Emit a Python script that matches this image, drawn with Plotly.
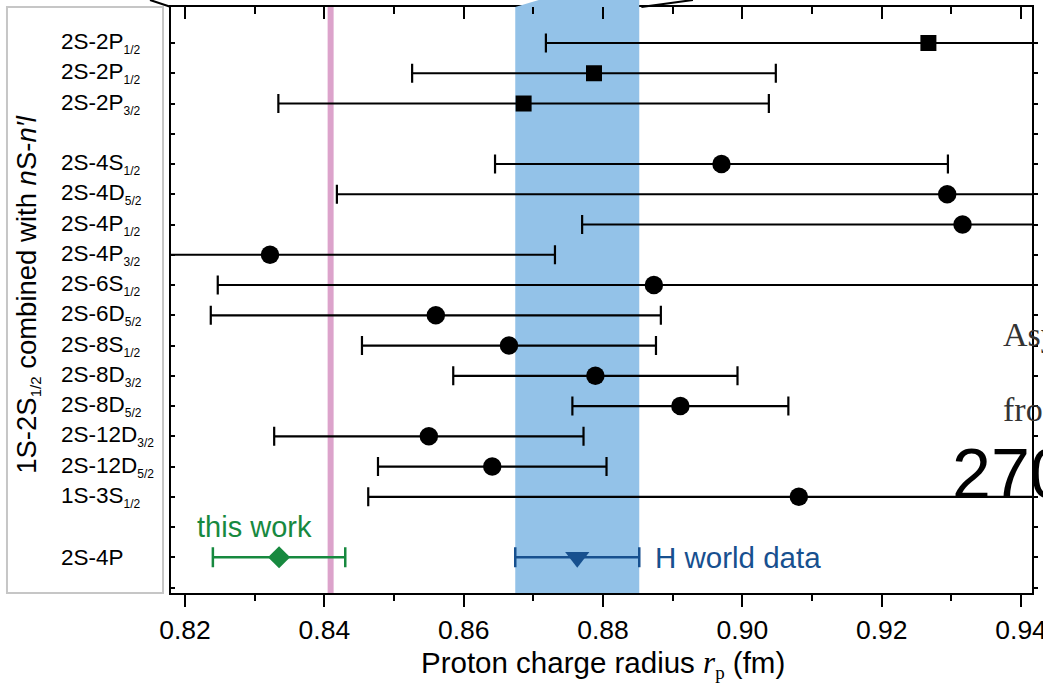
import plotly.graph_objects as go

# ---------------- data ----------------
sq_names = ["2S-2P", "2S-2P", "2S-2P"]
sq_subs = ["1/2", "1/2", "3/2"]
sq_rows = [0, 1, 2]
sq_vals = [0.9267, 0.8787, 0.8686]
sq_errs = [0.0549, 0.0261, 0.0352]

ci_names = ["2S-4S", "2S-4D", "2S-4P", "2S-4P", "2S-6S", "2S-6D", "2S-8S",
            "2S-8D", "2S-8D", "2S-12D", "2S-12D", "1S-3S"]
ci_subs = ["1/2", "5/2", "1/2", "3/2", "1/2", "5/2", "1/2",
           "3/2", "5/2", "3/2", "5/2", "1/2"]
ci_rows = [4, 5, 6, 7, 8, 9, 10, 11, 12, 13, 14, 15]
ci_vals = [0.8970, 0.9294, 0.9316, 0.8322, 0.8873, 0.8560, 0.8665,
           0.8789, 0.8911, 0.8550, 0.8641, 0.9081]
ci_errs = [0.0325, 0.0876, 0.0546, 0.0409, 0.0626, 0.0323, 0.0211,
           0.0204, 0.0155, 0.0222, 0.0164, 0.0618]

this_name = "2S-4P"
this_row = 17
this_val = 0.8335
this_err = 0.0095

world_val = 0.8763
world_err = 0.0089

muonic_val = 0.8409

x_ticks = [0.82, 0.84, 0.86, 0.88, 0.90, 0.92, 0.94]
x_minor = [0.83, 0.85, 0.87, 0.89, 0.91, 0.93]
y_ticks = list(range(0, 19))

# ---------------- style ----------------
FONT = "Liberation Sans, Arial, Helvetica, sans-serif"
GREEN = "#17893f"
DBLUE = "#17508f"
BAND = "#93c2e8"
PINK = "#dca3cb"

fig = go.Figure()

fig.add_trace(go.Scatter(
    x=sq_vals, y=sq_rows, mode="markers",
    marker=dict(symbol="square", size=16, color="black"),
    error_x=dict(type="data", array=sq_errs, color="black", thickness=2.2, width=9.5),
    showlegend=False, hoverinfo="skip"))

fig.add_trace(go.Scatter(
    x=ci_vals, y=ci_rows, mode="markers",
    marker=dict(symbol="circle", size=18.5, color="black"),
    error_x=dict(type="data", array=ci_errs, color="black", thickness=2.2, width=9.5),
    showlegend=False, hoverinfo="skip"))

fig.add_trace(go.Scatter(
    x=[this_val], y=[this_row], mode="markers",
    marker=dict(symbol="diamond", size=17, color=GREEN),
    error_x=dict(type="data", array=[this_err], color=GREEN, thickness=2.5, width=10),
    showlegend=False, hoverinfo="skip"))

fig.add_trace(go.Scatter(
    x=[world_val], y=[this_row], mode="markers",
    marker=dict(symbol="triangle-down", size=21, color=DBLUE),
    error_x=dict(type="data", array=[world_err], color=DBLUE, thickness=2.5, width=10),
    showlegend=False, hoverinfo="skip"))

# invisible trace for mirrored top/right axes
fig.add_trace(go.Scatter(x=[world_val], y=[this_row], xaxis="x2", yaxis="y2",
                         mode="markers", marker=dict(opacity=0),
                         showlegend=False, hoverinfo="skip"))

# band and muonic line
fig.add_shape(type="rect", xref="x", yref="paper",
              x0=world_val - world_err, x1=world_val + world_err, y0=0, y1=1,
              fillcolor=BAND, line=dict(width=0), layer="below")
fig.add_shape(type="line", xref="x", yref="paper", x0=muonic_val, x1=muonic_val,
              y0=0, y1=1, line=dict(color=PINK, width=6), layer="below")

# decorative zoom connectors above the plot
fig.add_shape(type="path", xref="x", yref="paper",
              path=f"M {world_val - world_err},1 L {world_val - world_err + 0.0034},1.012 "
                   f"L {world_val + world_err},1.012 L {world_val + world_err},1 Z",
              fillcolor=BAND, line=dict(width=0))
fig.add_shape(type="line", xref="x", yref="paper",
              x0=world_val + world_err + 0.0003, y0=1, x1=0.8929, y1=1.012,
              line=dict(color="black", width=2))
fig.add_shape(type="line", xref="paper", yref="paper",
              x0=-0.0244, y0=1.012, x1=0, y1=1,
              line=dict(color="black", width=2))

# gray box around row labels
fig.add_shape(type="rect", xref="paper", yref="paper",
              x0=-0.1905, x1=-0.0093, y0=0, y1=1,
              line=dict(color="#c6c6c6", width=2), fillcolor="rgba(0,0,0,0)")

ann = []
LX = -0.130
for n, s, r in zip(sq_names + ci_names, sq_subs + ci_subs, sq_rows + ci_rows):
    ann.append(dict(x=LX, xref="paper", y=r, yref="y", xanchor="left", yanchor="middle",
                    text=f"{n}<sub><span style='font-size:12px'>{s}</span></sub>",
                    showarrow=False, font=dict(family=FONT, size=22.5, color="black")))
ann.append(dict(x=LX, xref="paper", y=this_row, yref="y", xanchor="left", yanchor="middle",
                text=this_name, showarrow=False,
                font=dict(family=FONT, size=22.5, color="black")))

ann.append(dict(x=0.830, xref="x", y=16, yref="y", xanchor="center", yanchor="middle",
                text="this work", showarrow=False,
                font=dict(family=FONT, size=29, color=GREEN)))
ann.append(dict(x=world_val + world_err + 0.0020, xref="x", y=this_row, yref="y",
                xanchor="left", yanchor="middle", text="H world data", showarrow=False,
                font=dict(family=FONT, size=29.5, color=DBLUE)))

ann.append(dict(x=-0.1665, xref="paper", y=0.51, yref="paper", textangle=-90,
                xanchor="center", yanchor="middle",
                text="1S-2S<sub><span style='font-size:15px'>1/2</span></sub> combined with <i>n</i>S-<i>n′l</i>",
                showarrow=False, font=dict(family=FONT, size=27.5, color="black")))

ann.append(dict(x=0.502, xref="paper", y=-0.122, yref="paper", xanchor="center",
                yanchor="middle",
                text="Proton charge radius <span style='font-family:Liberation Serif;font-size:31px'><i>r</i></span>"
                     "<sub><span style='font-family:Liberation Serif;font-size:19px'>p</span></sub> (fm)",
                showarrow=False, font=dict(family=FONT, size=29.5, color="black")))

# text fragments from neighbouring panel (cut at the right edge, as in the source)
ann.append(dict(x=(1001 - 171) / 861, xref="paper", y=(593 - 334) / 586, yref="paper",
                xanchor="left", yanchor="middle", text="Asy", showarrow=False,
                font=dict(family="Liberation Serif", size=34, color="#333333")))
ann.append(dict(x=(1001 - 171) / 861, xref="paper", y=(593 - 409) / 586, yref="paper",
                xanchor="left", yanchor="middle", text="fro", showarrow=False,
                font=dict(family="Liberation Serif", size=34, color="#333333")))
ann.append(dict(x=(950 - 171) / 861, xref="paper", y=(593 - 474) / 586, yref="paper",
                xanchor="left", yanchor="middle", text="270", showarrow=False,
                font=dict(family=FONT, size=70, color="black")))

fig.update_layout(
    width=1043, height=683,
    margin=dict(l=171, r=11, t=7, b=90, autoexpand=False),
    paper_bgcolor="white", plot_bgcolor="white",
    annotations=ann,
    xaxis=dict(range=[0.81799, 0.94157], tickvals=x_ticks, ticktext=[f"{v:.2f}" for v in x_ticks],
               ticks="outside", ticklen=12, tickwidth=2, tickcolor="black",
               ticklabeloverflow="allow", automargin=False,
               minor=dict(tickvals=x_minor, ticks="outside", ticklen=6, tickwidth=2,
                          tickcolor="black", showgrid=False),
               showline=True, linewidth=2, linecolor="black", showgrid=False, zeroline=False,
               tickfont=dict(family=FONT, size=26.5, color="black")),
    yaxis=dict(range=[18.18, -1.19], tickvals=y_ticks, ticks="inside", ticklen=4,
               tickwidth=1.5, tickcolor="black", showticklabels=False, automargin=False,
               showline=True, linewidth=2, linecolor="black", showgrid=False, zeroline=False),
    xaxis2=dict(overlaying="x", matches="x", side="top", anchor="y2", tickvals=x_ticks,
                ticks="inside", ticklen=12, tickwidth=2, tickcolor="black", automargin=False,
                minor=dict(tickvals=x_minor, ticks="inside", ticklen=7, tickwidth=2,
                           tickcolor="black", showgrid=False),
                showticklabels=False, showline=True, linewidth=2, linecolor="black",
                showgrid=False, zeroline=False),
    yaxis2=dict(overlaying="y", matches="y", side="right", anchor="x2", tickvals=y_ticks,
                ticks="outside", ticklen=4, tickwidth=1.5, tickcolor="black", automargin=False,
                showticklabels=False, showline=True, linewidth=2, linecolor="black",
                showgrid=False, zeroline=False),
)

fig.write_html("out.html")
